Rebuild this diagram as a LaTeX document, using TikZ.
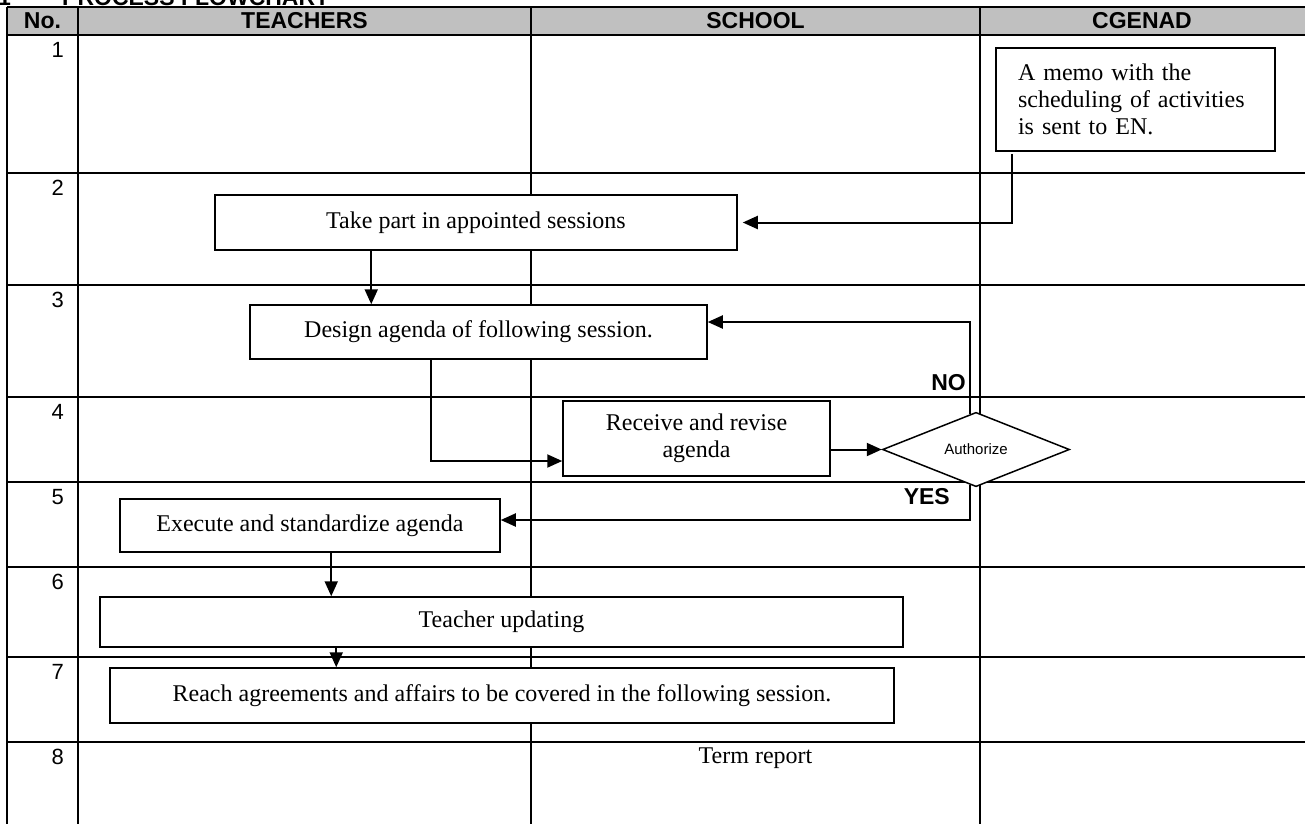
\documentclass[tikz,border=0pt]{standalone}
\usepackage{fontspec}
\setmainfont{Liberation Serif}
\newfontfamily\arialfont{Liberation Sans}
\usetikzlibrary{arrows.meta,shapes.geometric}
\definecolor{headgrey}{HTML}{C0C0C0}

\begin{document}
\begin{tikzpicture}[x=1pt,y=-1pt,
    box/.style={draw,fill=white,line width=1.5pt,inner sep=0pt,font=\fontsize{24}{27}\selectfont},
    flow/.style={line width=2pt,-{Triangle[length=15pt,width=13pt]}},
    rowno/.style={anchor=north east,inner sep=0pt,font=\arialfont\fontsize{22}{26}\selectfont},
    head/.style={inner sep=0pt,font=\arialfont\bfseries\fontsize{23}{26}\selectfont},
    gridline/.style={line width=2pt}]
  \useasboundingbox (0,0) rectangle (1305,823);
  \clip (0,0) rectangle (1305,823);

  % title, cut off by the page top
  \node[head,anchor=base west] (titleno) at (-2,5) {1};
  \node[head,anchor=base west] (title) at (62,5) {PROCESS FLOWCHART};

  % table
  \fill[headgrey] (7,7) rectangle (1320,35);
  \draw[gridline] (7,7) -- (1320,7);
  \draw[gridline] (7,35) -- (1320,35);
  \draw[gridline] (7,173) -- (1320,173);
  \draw[gridline] (7,285) -- (1320,285);
  \draw[gridline] (7,397) -- (1320,397);
  \draw[gridline] (7,482) -- (1320,482);
  \draw[gridline] (7,567) -- (1320,567);
  \draw[gridline] (7,657) -- (1320,657);
  \draw[gridline] (7,742) -- (1320,742);
  \draw[gridline] (7,7) -- (7,840);
  \draw[gridline] (78,7) -- (78,840);
  \draw[gridline] (531,7) -- (531,840);
  \draw[gridline] (980,7) -- (980,840);

  \node[head] (nohead) at (42.5,21) {No.};
  \node[head] (teachers) at (304.5,21) {TEACHERS};
  \node[head] (school) at (755.5,21) {SCHOOL};
  \node[head] (cgenad) at (1142,21) {CGENAD};

  \node[rowno] (r1) at (64,42) {1};
  \node[rowno] (r2) at (64,180) {2};
  \node[rowno] (r3) at (64,292) {3};
  \node[rowno] (r4) at (64,404) {4};
  \node[rowno] (r5) at (64,489) {5};
  \node[rowno] (r6) at (64,574) {6};
  \node[rowno] (r7) at (64,664) {7};
  \node[rowno] (r8) at (64,749) {8};

  % steps
  \node[box,minimum width=279,minimum height=103,text width=235,align=left] (memo) at (1135.5,99.5)
    {A memo with the\\scheduling of activities\\is sent to EN.};
  \node[box,minimum width=522,minimum height=55] (take) at (476,222.5) {Take part in appointed sessions};
  \node[box,minimum width=457,minimum height=54] (design) at (478.5,332) {Design agenda of following session.};
  \node[box,minimum width=267,minimum height=75,align=center] (receive) at (696.5,438.5) {Receive and revise\\agenda};
  \node[draw,fill=white,diamond,line width=1.5pt,inner sep=0pt,minimum width=187,minimum height=63,
    font=\arialfont\fontsize{15}{18}\selectfont] (auth) at (976,449.5) {Authorize};
  \node[box,minimum width=380,minimum height=53] (execute) at (310,525.5) {Execute and standardize agenda};
  \node[box,minimum width=803,minimum height=50] (update) at (501.5,622) {Teacher updating};
  \node[box,minimum width=784,minimum height=55] (reach) at (502,695.5)
    {Reach agreements and affairs to be covered in the following session.};
  \node[inner sep=0pt,font=\fontsize{24}{27}\selectfont] (term) at (755.5,758) {Term report};

  % connectors
  \draw[flow,shorten >=5pt] ([xshift=17pt,yshift=-2pt]memo.south west) |- (take.east);
  \draw[flow] ([xshift=157pt]take.south west) -- ([xshift=122pt]design.north west);
  \draw[flow] ([xshift=182pt]design.south west) |- ([yshift=-22.5pt]receive.west);
  \draw[flow] (receive.east |- auth.west) -- (auth.west);
  \draw[flow] ([xshift=-6pt,yshift=-2pt]auth.north) |- ([yshift=10pt]design.east);
  \draw[flow] ([xshift=-6pt,yshift=2pt]auth.south) |- ([yshift=5.5pt]execute.east);
  \draw[flow] ([xshift=212pt]execute.south west) -- ([xshift=232pt]update.north west);
  \draw[flow] ([xshift=237pt]update.south west) -- ([xshift=227pt]reach.north west);

  \node[head,anchor=east] (no) at (966,383) {NO};
  \node[head,anchor=east] (yes) at (950,497) {YES};
\end{tikzpicture}
\end{document}
